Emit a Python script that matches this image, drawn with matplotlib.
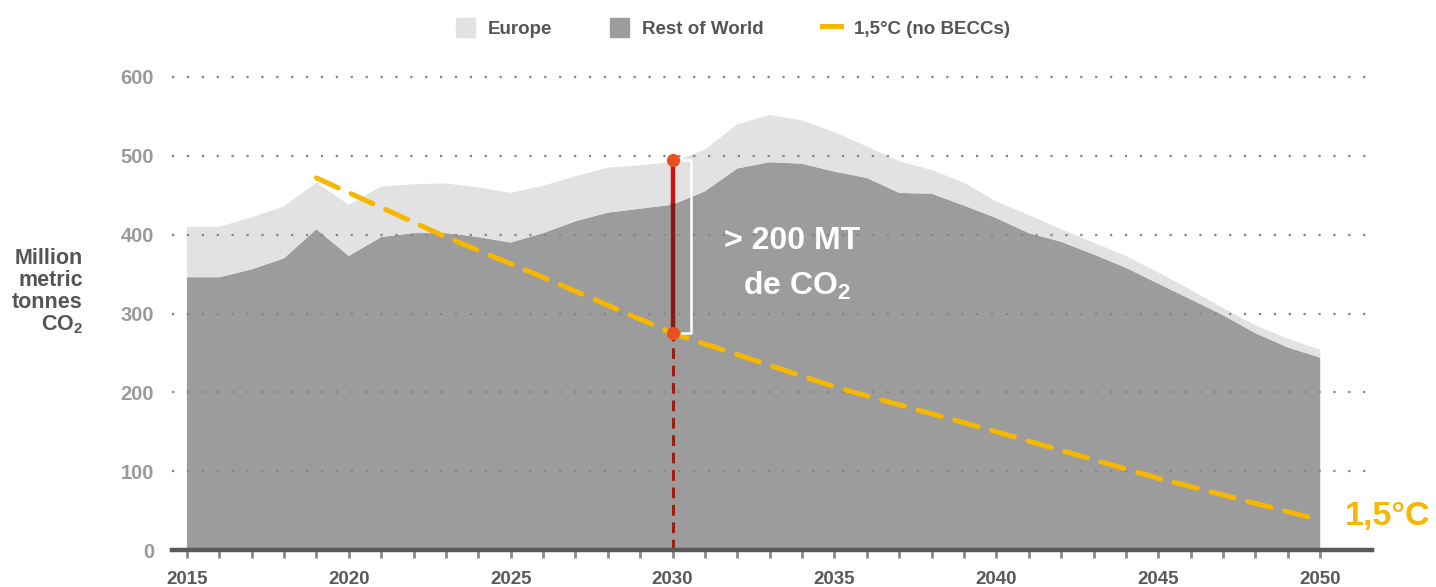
import numpy as np
import matplotlib.pyplot as plt
from matplotlib.patches import Patch
from matplotlib.lines import Line2D

plt.rcParams['font.family'] = ['Liberation Sans', 'DejaVu Sans']
plt.rcParams['font.weight'] = 'bold'
plt.rcParams['mathtext.fontset'] = 'custom'
plt.rcParams['mathtext.rm'] = 'Liberation Sans:bold'
plt.rcParams['mathtext.bf'] = 'Liberation Sans:bold'

# Data (million metric tonnes CO2)
years = list(range(2015, 2051))
rest_of_world = [346, 346, 356, 370, 407, 373, 397, 402, 402, 397,
                 390, 402, 417, 428, 433, 438, 455, 484, 492, 490,
                 480, 472, 453, 452, 437, 421, 402, 391, 375, 358,
                 338, 318, 298, 275, 257, 244]
europe = [64, 64, 66, 66, 59, 65, 64, 62, 63, 63,
          63, 60, 57, 57, 55, 54, 53, 56, 60, 55,
          50, 40, 40, 30, 29, 21, 23, 16, 15, 15,
          14, 12, 9, 10, 11, 10]
target_years = [2019, 2023, 2026, 2030, 2035, 2040, 2045, 2050]
target_values = [472, 397, 346, 275, 207, 150, 91, 38]

gap_year = 2030
gap_top = 495
gap_bottom = 275
row_2030 = 438

ytick_values = [0, 100, 200, 300, 400, 500, 600]
xtick_labels = [2015, 2020, 2025, 2030, 2035, 2040, 2045, 2050]

c_europe = "#e2e2e2"
c_row = "#9c9c9c"
c_target = "#f5b700"

fig = plt.figure(figsize=(14.36, 5.87), dpi=100)
ax = fig.add_axes([172 / 1436, 37 / 587, 1200 / 1436, 473 / 587])

ax.stackplot(years, rest_of_world, europe, colors=[c_row, c_europe],
             linewidth=0, zorder=1)

# dotted grid on top of the areas
for y in ytick_values[1:]:
    ax.axhline(y, color="#858585", lw=1.6, ls=(0, (1, 5.7)), zorder=2,
               clip_on=False)
ax.axhline(0, color="#595959", lw=3.2, zorder=5, clip_on=False)

# 1.5 degree pathway
ax.plot(target_years, target_values, color=c_target, lw=3.6,
        ls=(0, (4.8, 2.8)), zorder=4, dash_capstyle="round")

# gap marker at 2030
ax.plot([gap_year, gap_year], [0, gap_bottom], color="#a01c10", lw=2.2,
        ls=(0, (3.5, 2.2)), zorder=3)
ax.plot([gap_year, gap_year], [row_2030, gap_top], color="#cc1111", lw=3.2,
        zorder=6)
ax.plot([gap_year, gap_year], [gap_bottom, row_2030], color="#8b1a12", lw=3.2,
        zorder=6)
ax.plot([gap_year, gap_year], [gap_top, gap_bottom], "o", color="#e8501e",
        ms=8.5, zorder=7)

# white bracket
bx = gap_year + 0.58
ax.plot([bx - 0.3, bx, bx, bx - 0.3], [gap_top, gap_top, gap_bottom, gap_bottom],
        color="white", lw=1.8, zorder=6)
ax.text(2033.7, 392, "> 200 MT", color="white", fontsize=23,
        ha="center", va="center", zorder=8)
ax.text(2033.85, 335, r"de CO$_\mathbf{2}$", color="white", fontsize=23,
        ha="center", va="center", zorder=8)

ax.text(2050.75, 43, "1,5°C", color=c_target, fontsize=24.5,
        ha="left", va="center", clip_on=False)

ax.set_xlim(2014.54, 2051.6)
ax.set_ylim(0, 600)
for s in ax.spines.values():
    s.set_visible(False)

ax.set_xticks(years, minor=True)
ax.set_xticks(xtick_labels)
ax.set_xticklabels([str(x) for x in xtick_labels])
ax.tick_params(axis="x", which="both", length=6, width=2, color="#8a8a8a",
               direction="out", pad=9, labelsize=13.5, labelcolor="#5a5a5a")
ax.set_yticks(ytick_values)
ax.tick_params(axis="y", length=0, pad=13, labelsize=14.5,
               labelcolor="#9a9a9a")
for lab in ax.get_xticklabels() + ax.get_yticklabels():
    lab.set_fontweight("bold")

fig.text(83 / 1436, 1 - 292 / 587, "Million\nmetric\ntonnes\nCO$_\\mathbf{2}$",
         ha="right", va="center", fontsize=15.5, color="#555555",
         linespacing=1.05)

handles = [Patch(color=c_europe, label="Europe"),
           Patch(color=c_row, label="Rest of World"),
           Line2D([0], [0], color=c_target, lw=3.6, label="1,5°C (no BECCs)")]
leg = fig.legend(handles=handles, loc="center", ncol=3,
                 bbox_to_anchor=(733 / 1436, 1 - 28 / 587), frameon=False,
                 handlelength=1.0, handleheight=1.2, columnspacing=3.1,
                 handletextpad=0.7, prop={"weight": "bold", "size": 13.5})
for t in leg.get_texts():
    t.set_color("#555555")

fig.savefig("out.png", dpi=100)
